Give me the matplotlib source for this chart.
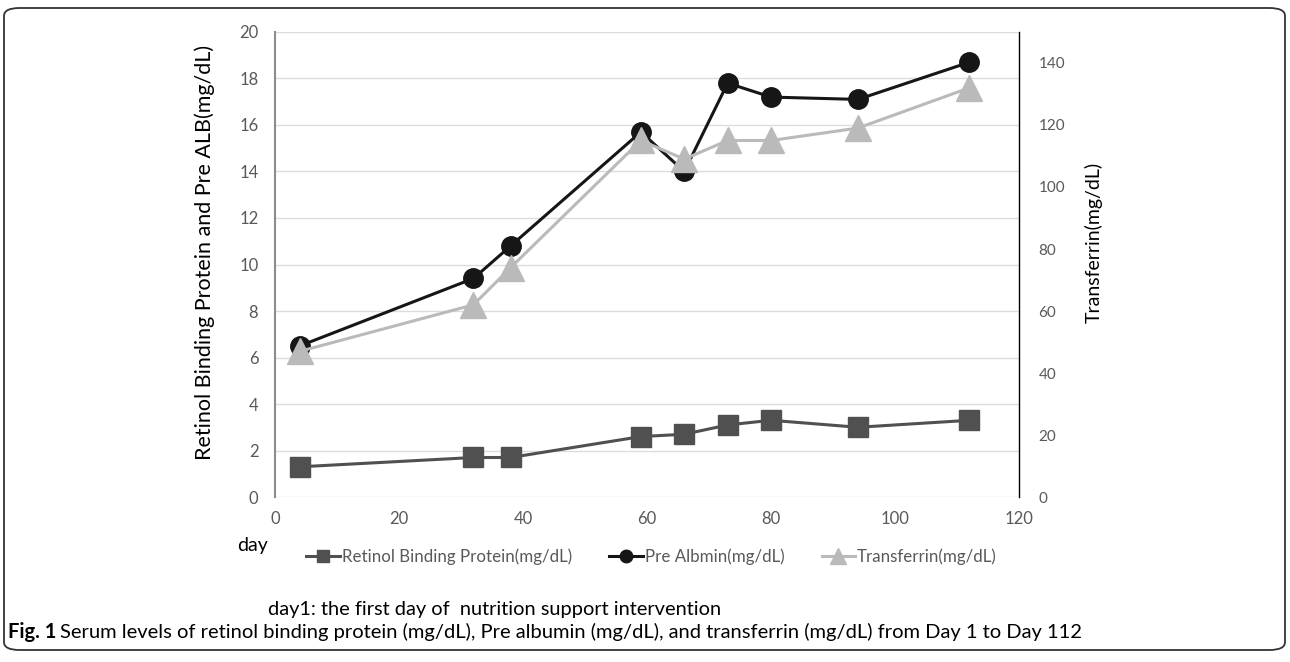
import matplotlib
matplotlib.use("Agg")
import matplotlib.pyplot as plt
from matplotlib.patches import FancyBboxPatch
from matplotlib.lines import Line2D

plt.rcParams['font.family'] = ['Lato', 'DejaVu Sans']

days = [4, 32, 38, 59, 66, 73, 80, 94, 112]
rbp = [1.3, 1.7, 1.7, 2.6, 2.7, 3.1, 3.3, 3.0, 3.3]
pre_alb = [6.5, 9.4, 10.8, 15.7, 14.0, 17.8, 17.2, 17.1, 18.7]
transferrin = [47, 62, 74, 115, 109, 115, 115, 119, 132]

rbp_label = 'Retinol Binding Protein(mg/dL)'
alb_label = 'Pre Albmin(mg/dL)'
tf_label = 'Transferrin(mg/dL)'

c_rbp = '#505050'
c_alb = '#161616'
c_tf = '#bababa'
tickcol = '#595959'

fig = plt.figure(figsize=(12.9, 6.62), dpi=100)
ax = fig.add_axes([0.2132, 0.2492, 0.5768, 0.7025])
ax2 = ax.twinx()

ax.plot(days, rbp, color=c_rbp, marker='s', markersize=14, linewidth=2.2, label=rbp_label)
ax.plot(days, pre_alb, color=c_alb, marker='o', markersize=14, linewidth=2.2, label=alb_label)
ax2.plot(days, transferrin, color=c_tf, marker='^', markersize=19, linewidth=2.2, label=tf_label)

ax.set_xlim(0, 120)
ax.set_ylim(0, 20)
ax2.set_ylim(0, 150)
ax.set_xticks(range(0, 121, 20))
ax.set_yticks(range(0, 21, 2))
ax2.set_yticks(range(0, 141, 20))

ax.grid(axis='y', color='#dcdcdc', linewidth=1)
ax.set_axisbelow(True)
for a in (ax, ax2):
    for s in ('top', 'bottom'):
        a.spines[s].set_visible(False)
ax.spines['right'].set_visible(False)
ax2.spines['left'].set_visible(False)
ax.spines['left'].set_color('#8c8c8c')
ax.spines['left'].set_linewidth(1.5)
ax2.spines['right'].set_color('#000000')
ax2.spines['right'].set_linewidth(1.0)

ax.tick_params(axis='both', length=0, labelsize=12, labelcolor=tickcol, pad=12)
ax.tick_params(axis='x', pad=10)
ax2.tick_params(axis='y', length=0, labelsize=11, labelcolor=tickcol, pad=14)

ax.set_ylabel('Retinol Binding Protein and Pre ALB(mg/dL)', fontsize=15.5)
ax.yaxis.set_label_coords(-0.081, 0.527)
ax2.set_ylabel(tf_label, fontsize=14)
ax2.yaxis.set_label_coords(1.088, 0.548)

handles = [Line2D([], [], color=c_rbp, marker='s', markersize=9, linewidth=2.2),
           Line2D([], [], color=c_alb, marker='o', markersize=9, linewidth=2.2),
           Line2D([], [], color=c_tf, marker='^', markersize=11, linewidth=2.2)]
fig.legend(handles, [rbp_label, alb_label, tf_label], loc='center', ncol=3,
           bbox_to_anchor=(0.505, 0.1586), frameon=False, fontsize=12.2,
           labelcolor=tickcol, handlelength=2.0, handletextpad=0.1, columnspacing=2.2)

fig.text(237 / 1290, 1 - 545 / 662, 'day', fontsize=14, va='center', ha='left')
fig.text(268 / 1290, 1 - 609 / 662, 'day1: the first day of  nutrition support intervention',
         fontsize=14.4, va='center', ha='left')

# caption
cap = fig.text(8 / 1290, 1 - 632 / 662, 'Fig. 1', fontsize=14.5, fontweight='bold', va='center', ha='left')
fig.canvas.draw()
bb = cap.get_window_extent()
fig.text((bb.x1 + 4) / 1290, 1 - 632 / 662,
         'Serum levels of retinol binding protein (mg/dL), Pre albumin (mg/dL), and transferrin (mg/dL) from Day 1 to Day 112',
         fontsize=14.5, va='center', ha='left')

box = FancyBboxPatch((4 / 1290, 12 / 662), 1281 / 1290, 642 / 662,
                     boxstyle='round,pad=0,rounding_size=0.012', transform=fig.transFigure,
                     fill=False, edgecolor='#333333', linewidth=1.3)
fig.patches.append(box)

fig.savefig('out.png', dpi=100)
